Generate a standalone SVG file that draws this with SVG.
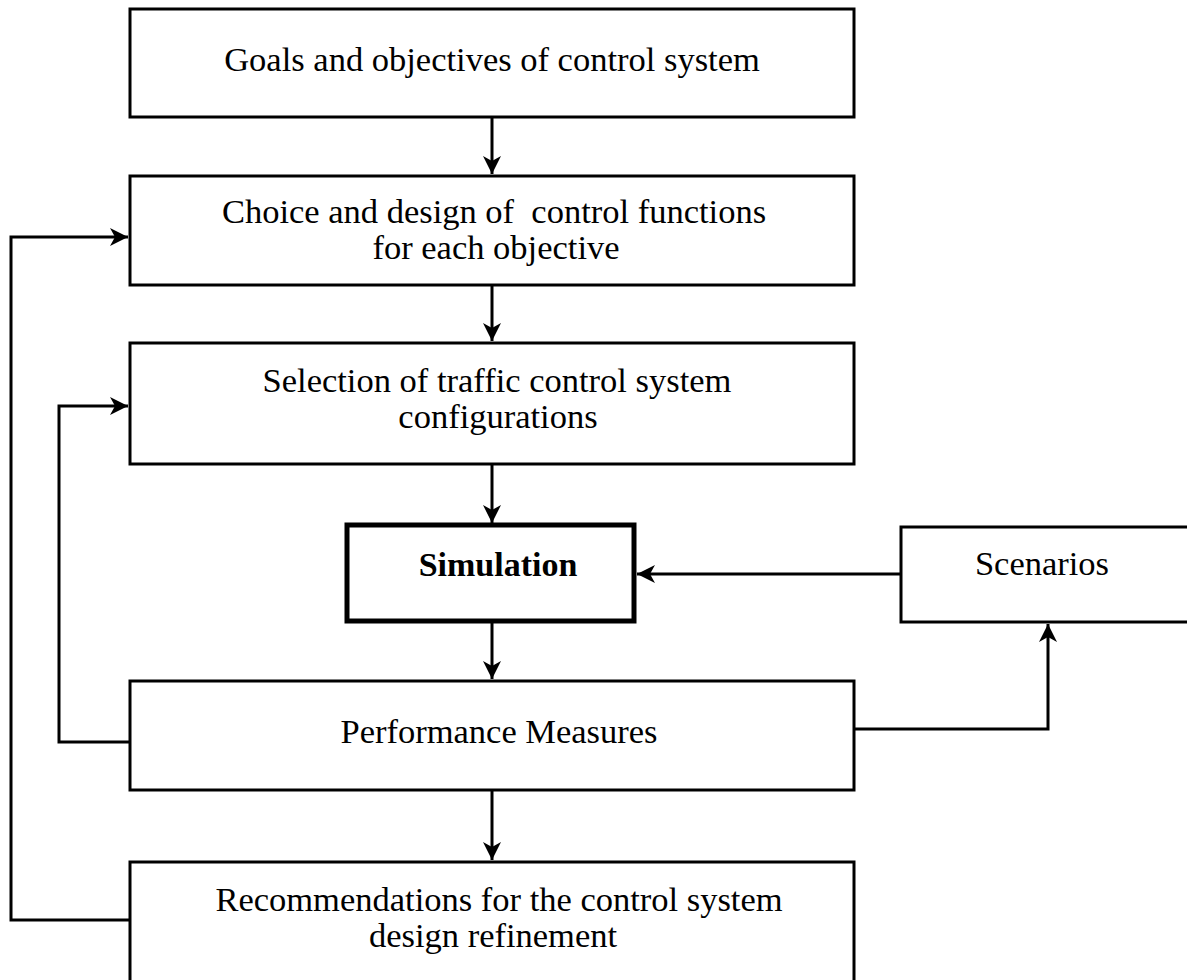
<svg xmlns="http://www.w3.org/2000/svg" width="1187" height="980" viewBox="0 0 1187 980">
<style>
.box{fill:#fff;stroke:#000;stroke-width:3}
.thick{fill:#fff;stroke:#000;stroke-width:5}
.t{font-family:"Liberation Serif","Times New Roman",serif;font-size:34.5px;fill:#000;text-anchor:middle}
.b{font-weight:bold;font-size:34px}
.c{fill:none;stroke:#000;stroke-width:3}
</style>
<defs>
<marker id="ah" markerUnits="userSpaceOnUse" markerWidth="20" markerHeight="20" refX="18" refY="9" orient="auto">
<path d="M0,0 L18,9 L0,18 L5,9 z" fill="#000"/>
</marker>
</defs>
<rect width="1187" height="980" fill="#fff"/>
<g id="connectors">
<path class="c" d="M492,117 V174" marker-end="url(#ah)"/>
<path class="c" d="M492,285 V341" marker-end="url(#ah)"/>
<path class="c" d="M492,464 V523" marker-end="url(#ah)"/>
<path class="c" d="M492,621 V679" marker-end="url(#ah)"/>
<path class="c" d="M492,790 V860" marker-end="url(#ah)"/>
<path class="c" d="M130,920 H11 V237 H128" marker-end="url(#ah)"/>
<path class="c" d="M130,742 H59 V406 H128" marker-end="url(#ah)"/>
<path class="c" d="M854,729 H1048 V624" marker-end="url(#ah)"/>
<path class="c" d="M901,574 H637" marker-end="url(#ah)"/>
</g>
<g id="goals">
<rect class="box" x="130" y="9" width="724" height="108"/>
<text class="t" x="492" y="71">Goals and objectives of control system</text>
</g>
<g id="choice">
<rect class="box" x="130" y="176" width="724" height="109"/>
<text class="t" x="494" y="223" xml:space="preserve">Choice and design of  control functions</text>
<text class="t" x="496" y="259">for each objective</text>
</g>
<g id="selection">
<rect class="box" x="130" y="343" width="724" height="121"/>
<text class="t" x="497" y="392">Selection of traffic control system</text>
<text class="t" x="498" y="428">configurations</text>
</g>
<g id="simulation">
<rect class="thick" x="347" y="525" width="287" height="96"/>
<text class="t b" x="498" y="576">Simulation</text>
</g>
<g id="scenarios">
<rect class="box" x="901" y="527" width="300" height="95"/>
<text class="t" x="1042" y="575">Scenarios</text>
</g>
<g id="performance">
<rect class="box" x="130" y="681" width="724" height="109"/>
<text class="t" x="499" y="743">Performance Measures</text>
</g>
<g id="recommendations">
<rect class="box" x="130" y="862" width="724" height="130"/>
<text class="t" x="499" y="911">Recommendations for the control system</text>
<text class="t" x="493" y="947">design refinement</text>
</g>
</svg>
